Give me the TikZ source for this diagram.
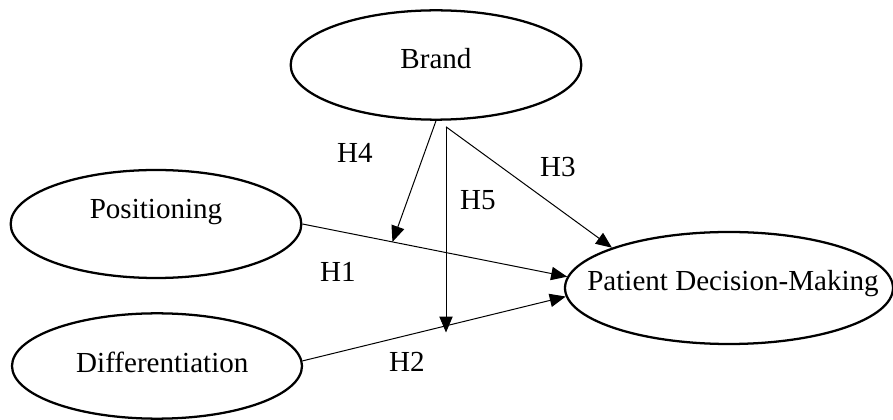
\documentclass[tikz,border=0pt]{standalone}
\usepackage{fontspec}
\setmainfont{Liberation Serif}
\usetikzlibrary{arrows.meta,positioning,calc,shapes.geometric}

\begin{document}
\begin{tikzpicture}[x=0.75pt,y=-0.75pt,
  font=\fontsize{21.8}{26}\selectfont,
  oval/.style={ellipse,draw,line width=1.7pt,inner sep=0pt},
  link/.style={-{Triangle[length=12pt,width=10pt]},line width=0.75pt},
  hyp/.style={inner sep=0pt}]
\useasboundingbox (0,0) rectangle (893,420);
% constructs
\node[oval,minimum width=218pt,minimum height=82pt,
      label={[yshift=4.5pt]center:Brand}] (brand) at (436,65) {};
\node[oval,minimum width=218pt,minimum height=81pt,
      label={[yshift=9pt]center:Positioning}] (pos) at (156,224) {};
\node[oval,minimum width=217.5pt,minimum height=79pt,
      label={[xshift=4pt,yshift=3pt]center:Differentiation}] (diff) at (157,366) {};
\node[oval,minimum width=246pt,minimum height=84pt,
      label={[xshift=3pt,yshift=3.5pt]center:Patient Decision-Making}] (pdm) at (729,288) {};
% helper points
\coordinate (hub) at ([shift={(10,6)}]brand.south);
\coordinate (m1) at ($(pos.east)!0.34!(pdm.176)$);
\coordinate (m2) at ($(diff.2)!0.545!(pdm.183)$);
% direct paths
\draw[link] (pos.east) -- (pdm.176);
\draw[link] (diff.2) -- (pdm.183);
\draw[link] (hub) -- (pdm.161);
% moderation
\draw[link] (brand.south) -- (m1);
\draw[link,shorten >=-5pt] (hub) -- (hub |- m2);
% hypotheses
\node[hyp] (h1) at (338,272) {H1};
\node[hyp] (h2) at (407,362) {H2};
\node[hyp] (h3) at (558,167) {H3};
\node[hyp] (h4) at (355,153) {H4};
\node[hyp] (h5) at (478,200) {H5};
\end{tikzpicture}
\end{document}
